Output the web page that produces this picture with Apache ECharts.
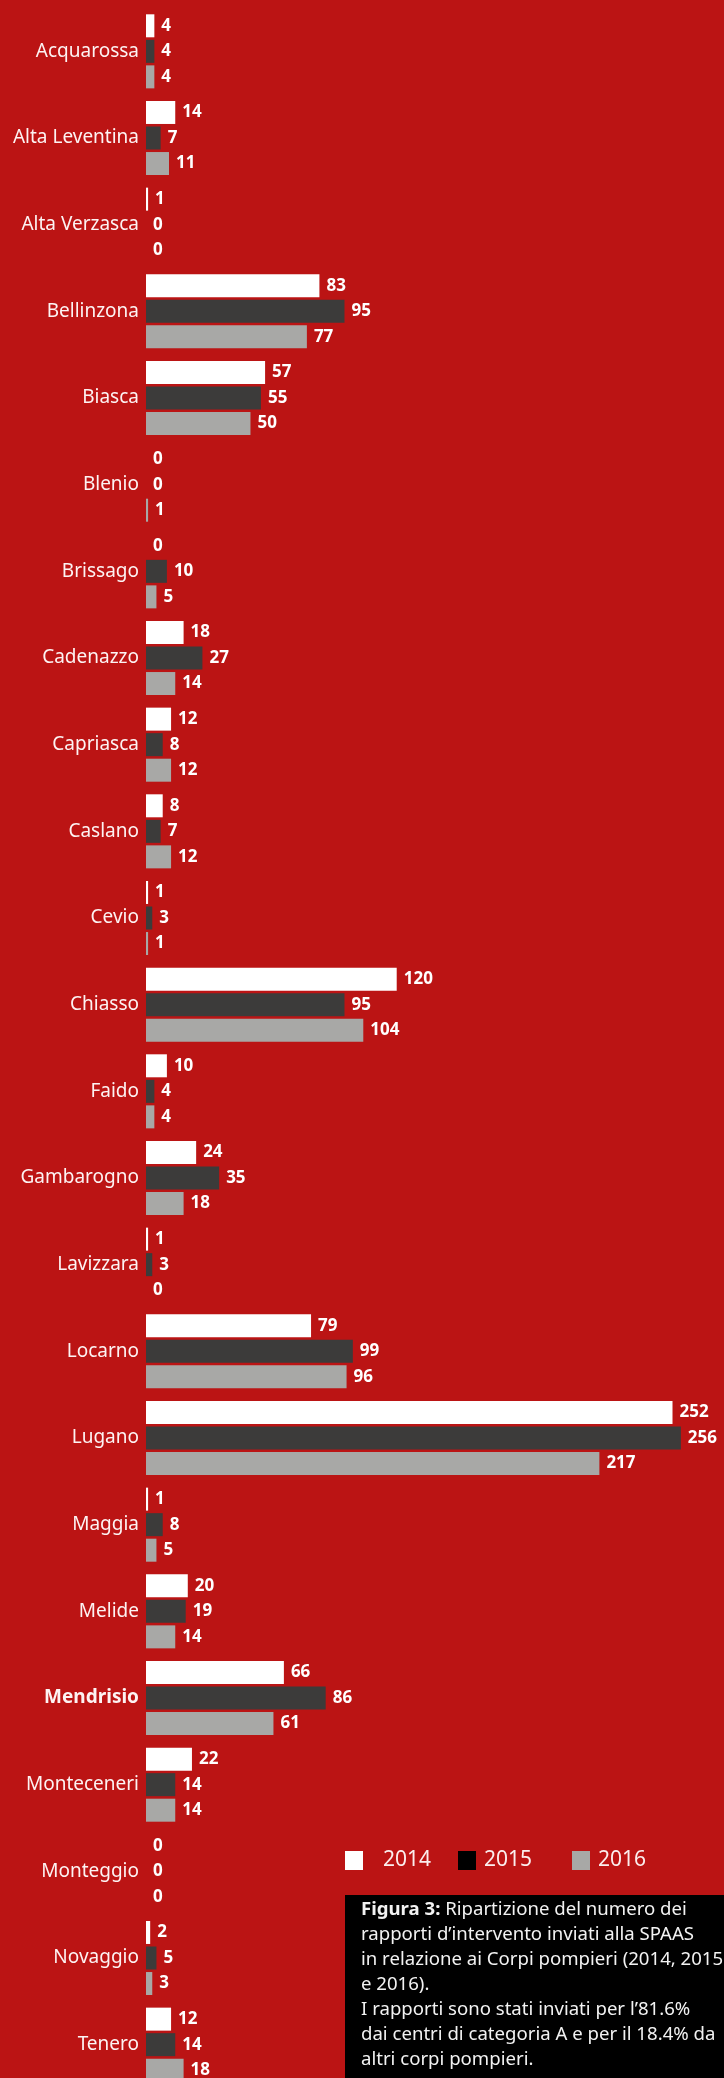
<!DOCTYPE html>
<html>
<head>
<meta charset="utf-8">
<title>Figura 3</title>
<script src="https://cdn.jsdelivr.net/npm/echarts@6.0.0/dist/echarts.min.js"></script>
<style>
    html, body {margin: 0; padding: 0; background: #bb1414;}
    #chart {width: 724px; height: 2078px;}
</style>
</head>
<body>
<div id="chart"></div>
<script>
// dati
var corpi = ['Acquarossa', 'Alta Leventina', 'Alta Verzasca', 'Bellinzona', 'Biasca', 'Blenio', 'Brissago',
    'Cadenazzo', 'Capriasca', 'Caslano', 'Cevio', 'Chiasso', 'Faido', 'Gambarogno', 'Lavizzara', 'Locarno',
    'Lugano', 'Maggia', 'Melide', 'Mendrisio', 'Monteceneri', 'Monteggio', 'Novaggio', 'Tenero'];
var anni = ['2014', '2015', '2016'];
var dati2014 = [4, 14, 1, 83, 57, 0, 0, 18, 12, 8, 1, 120, 10, 24, 1, 79, 252, 1, 20, 66, 22, 0, 2, 12];
var dati2015 = [4, 7, 0, 95, 55, 0, 10, 27, 8, 7, 3, 95, 4, 35, 3, 99, 256, 8, 19, 86, 14, 0, 5, 14];
var dati2016 = [4, 11, 0, 77, 50, 1, 5, 14, 12, 12, 1, 104, 4, 18, 0, 96, 217, 5, 14, 61, 14, 0, 3, 18];

var colori = ['#ffffff', '#3c3b3a', '#a8a8a6'];
var coloriLegenda = ['#ffffff', '#000000', '#a8a8a6'];

var myChart = echarts.init(document.getElementById('chart'));

function serie(nome, valori, colore) {
    return {
        name: nome,
        type: 'bar',
        barWidth: 23,
        barGap: '11%',
        data: valori,
        itemStyle: {color: colore},
        label: {
            show: true,
            position: 'right',
            distance: 7,
            color: '#ffffff',
            fontFamily: 'Noto Sans',
            fontWeight: 'bold',
            fontSize: 17
        },
        emphasis: {disabled: true}
    };
}

function legenda(i, left, pad) {
    return {
        left: left,
        top: 1850,
        padding: 0,
        itemWidth: 18,
        itemHeight: 19,
        icon: 'rect',
        data: [{name: anni[i], itemStyle: {color: coloriLegenda[i]}}],
        textStyle: {
            color: '#fbeeee',
            fontFamily: 'Noto Sans',
            fontSize: 21,
            padding: [0, 0, 0, pad]
        }
    };
}

var option = {
    backgroundColor: '#bb1414',
    animation: false,
    grid: {left: 146, top: 8, width: 585, height: 2080, outerBoundsMode: 'none'},
    xAxis: {
        type: 'value',
        min: 0,
        max: 280,
        show: false
    },
    yAxis: {
        type: 'category',
        inverse: true,
        data: corpi.map(function (c) {
            return c === 'Mendrisio' ? {value: c, textStyle: {fontWeight: 'bold'}} : c;
        }),
        axisLine: {show: false},
        axisTick: {show: false},
        axisLabel: {
            margin: 7,
            color: '#fdf3f3',
            fontFamily: 'Noto Sans',
            fontSize: 19
        }
    },
    legend: [legenda(0, 345, 15), legenda(1, 458, 3), legenda(2, 572, 3)],
    series: [
        serie(anni[0], dati2014, colori[0]),
        serie(anni[1], dati2015, colori[1]),
        serie(anni[2], dati2016, colori[2])
    ],
    graphic: [
        {
            type: 'rect',
            left: 345,
            top: 1895,
            shape: {width: 400, height: 200},
            style: {fill: '#000000'}
        },
        {
            type: 'text',
            left: 361,
            top: 1897,
            style: {
                text: '{b|Figura 3:} Ripartizione del numero dei\n' +
                    'rapporti d\u2019intervento inviati alla SPAAS\n' +
                    'in relazione ai Corpi pompieri (2014, 2015\n' +
                    'e 2016).\n' +
                    'I rapporti sono stati inviati per l\u201981.6%\n' +
                    'dai centri di categoria A e per il 18.4% da\n' +
                    'altri corpi pompieri.',
                fill: '#f2f2f2',
                font: '18.6px "Noto Sans"',
                lineHeight: 25,
                rich: {
                    b: {fontWeight: 'bold', fontSize: 18.6, fontFamily: 'Noto Sans', fill: '#f2f2f2', lineHeight: 25}
                }
            }
        }
    ]
};
myChart.setOption(option);
</script>
</body>
</html>
